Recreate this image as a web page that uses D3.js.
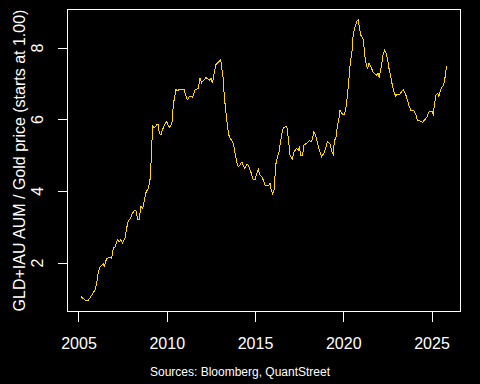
<!DOCTYPE html>
<html>
<head>
<meta charset="utf-8">
<script src="https://cdn.jsdelivr.net/npm/d3@7"></script>
<style>
    html, body { margin: 0; padding: 0; background: #000; }
    #chart { width: 480px; height: 384px; }
    text { font-family: "Liberation Sans", Arial, sans-serif; fill: #fff; }
</style>
</head>
<body>
<div id="chart"></div>
<script>
(function () {
    'use strict';

    // decimal year of each observation
    var years = [
        2005.14, 2005.37, 2005.56, 2005.75, 2005.93, 2006.03, 2006.12, 2006.22, 2006.41, 2006.46,
        2006.60, 2006.78, 2006.88, 2006.97, 2007.07, 2007.20, 2007.31, 2007.39, 2007.50, 2007.63,
        2007.73, 2007.82, 2007.96, 2008.01, 2008.14, 2008.26, 2008.35, 2008.44, 2008.54, 2008.64,
        2008.73, 2008.82, 2008.95, 2009.05, 2009.12, 2009.20, 2009.28, 2009.43, 2009.52, 2009.58,
        2009.67, 2009.77, 2009.90, 2010.00, 2010.09, 2010.18, 2010.31, 2010.37, 2010.47, 2010.51,
        2010.60, 2010.75, 2010.98, 2011.16, 2011.32, 2011.47, 2011.60, 2011.79, 2011.88, 2011.98,
        2012.11, 2012.22, 2012.41, 2012.51, 2012.58, 2012.69, 2012.77, 2012.92, 2013.06, 2013.11,
        2013.20, 2013.26, 2013.36, 2013.45, 2013.54, 2013.68, 2013.77, 2013.87, 2013.96, 2014.05,
        2014.15, 2014.26, 2014.34, 2014.43, 2014.53, 2014.62, 2014.76, 2014.90, 2015.00, 2015.10,
        2015.19, 2015.28, 2015.38, 2015.47, 2015.58, 2015.75, 2015.85, 2015.92, 2016.00, 2016.09,
        2016.17, 2016.26, 2016.36, 2016.45, 2016.55, 2016.64, 2016.80, 2016.89, 2016.98, 2017.11,
        2017.21, 2017.36, 2017.45, 2017.51, 2017.61, 2017.70, 2017.78, 2017.93, 2018.08, 2018.21,
        2018.34, 2018.44, 2018.59, 2018.78, 2018.91, 2019.01, 2019.10, 2019.25, 2019.35, 2019.44,
        2019.49, 2019.59, 2019.66, 2019.76, 2019.82, 2019.91, 2020.04, 2020.14, 2020.23, 2020.31,
        2020.38, 2020.44, 2020.50, 2020.57, 2020.67, 2020.76, 2020.85, 2020.91, 2020.99, 2021.06,
        2021.14, 2021.23, 2021.33, 2021.39, 2021.46, 2021.56, 2021.67, 2021.80, 2021.89, 2021.97,
        2022.03, 2022.12, 2022.20, 2022.27, 2022.35, 2022.42, 2022.50, 2022.59, 2022.69, 2022.78,
        2022.88, 2022.97, 2023.06, 2023.18, 2023.27, 2023.40, 2023.52, 2023.63, 2023.74, 2023.84,
        2024.01, 2024.12, 2024.20, 2024.35, 2024.50, 2024.61, 2024.73, 2024.84, 2024.92, 2025.03,
        2025.10, 2025.18, 2025.26, 2025.35, 2025.42, 2025.50, 2025.59, 2025.69, 2025.76, 2025.82,
        2025.86
    ];

    // GLD+IAU AUM / gold price, rebased to 1.00
    var ratio = [
        1.05, 0.95, 0.95, 1.09, 1.23, 1.42, 1.74, 1.88, 1.96, 1.90,
        2.12, 2.13, 2.12, 2.40, 2.44, 2.63, 2.58, 2.63, 2.54, 2.68,
        2.96, 3.17, 3.23, 3.33, 3.44, 3.44, 3.21, 3.21, 3.56, 3.51,
        3.74, 3.95, 4.07, 4.30, 4.86, 5.84, 5.75, 5.84, 5.84, 5.61,
        5.56, 5.72, 5.87, 5.93, 5.81, 5.77, 5.93, 6.40, 6.69, 6.83,
        6.80, 6.83, 6.83, 6.54, 6.65, 6.61, 6.81, 6.86, 7.16, 7.02,
        7.09, 7.16, 7.09, 7.13, 7.00, 7.28, 7.51, 7.59, 7.67, 7.46,
        7.14, 6.63, 6.16, 5.75, 5.51, 5.40, 5.33, 5.05, 4.81, 4.67,
        4.72, 4.81, 4.70, 4.63, 4.74, 4.72, 4.53, 4.32, 4.30, 4.49,
        4.60, 4.44, 4.40, 4.30, 4.14, 4.14, 4.21, 4.02, 3.91, 4.04,
        4.72, 4.91, 5.09, 5.37, 5.68, 5.77, 5.81, 5.47, 5.00, 4.88,
        5.09, 5.19, 5.12, 5.20, 4.98, 5.00, 5.28, 5.33, 5.40, 5.37,
        5.65, 5.53, 5.23, 4.95, 5.06, 5.19, 5.37, 5.31, 5.09, 5.00,
        5.37, 5.51, 5.79, 6.02, 6.26, 6.16, 6.12, 6.26, 6.63, 7.05,
        7.46, 7.70, 7.93, 8.40, 8.58, 8.72, 8.77, 8.58, 8.35, 8.30,
        8.21, 7.74, 7.46, 7.42, 7.56, 7.48, 7.33, 7.26, 7.23, 7.28,
        7.16, 7.37, 7.60, 7.84, 7.93, 7.84, 7.70, 7.42, 7.19, 6.95,
        6.74, 6.65, 6.69, 6.68, 6.74, 6.83, 6.72, 6.54, 6.35, 6.24,
        6.23, 6.12, 5.96, 5.95, 5.91, 5.98, 6.05, 6.18, 6.23, 6.21,
        6.14, 6.44, 6.68, 6.72, 6.63, 6.81, 6.89, 6.95, 7.14, 7.37,
        7.48
    ];

    var xTicks = [2005, 2010, 2015, 2020, 2025];
    var yTicks = [2, 4, 6, 8];

    var yTitle = 'GLD+IAU AUM / Gold price (starts at 1.00)';
    var caption = 'Sources: Bloomberg, QuantStreet';

    var width = 480, height = 384;
    var margin = { top: 9.5, right: 19.5, bottom: 72.5, left: 67.5 };

    var svg = d3.select('#chart').append('svg')
        .attr('width', width)
        .attr('height', height);

    svg.append('rect')
        .attr('width', width)
        .attr('height', height)
        .attr('fill', '#000');

    var x = d3.scaleLinear()
        .domain([2004.377, 2026.643])
        .range([margin.left, width - margin.right]);
    var y = d3.scaleLinear()
        .domain([0.6326, 9.0606])
        .range([height - margin.bottom, margin.top]);

    var points = years.map(function (yr, i) { return [yr, ratio[i]]; });

    var line = d3.line()
        .x(function (d) { return x(d[0]); })
        .y(function (d) { return y(d[1]); });

    svg.append('path')
        .datum(points)
        .attr('fill', 'none')
        .attr('stroke', '#ffd700')
        .attr('stroke-width', 1)
        .attr('shape-rendering', 'crispEdges')
        .attr('d', line);

    // box round the plot
    svg.append('rect')
        .attr('x', x.range()[0])
        .attr('y', y.range()[1])
        .attr('width', x.range()[1] - x.range()[0])
        .attr('height', y.range()[0] - y.range()[1])
        .attr('fill', 'none')
        .attr('stroke', '#fff')
        .attr('shape-rendering', 'crispEdges');

    var xAxis = svg.append('g')
        .attr('transform', 'translate(0,' + y.range()[0] + ')')
        .call(d3.axisBottom(x).tickValues(xTicks).tickFormat(d3.format('d'))
            .tickSize(10).tickPadding(16));

    var yAxis = svg.append('g')
        .attr('transform', 'translate(' + x.range()[0] + ',0)')
        .call(d3.axisLeft(y).tickValues(yTicks).tickSize(10));

    [xAxis, yAxis].forEach(function (g) {
        g.select('.domain').remove();
        g.selectAll('.tick line')
            .attr('stroke', '#fff')
            .attr('shape-rendering', 'crispEdges');
        g.selectAll('.tick text')
            .attr('fill', '#fff')
            .style('font-size', '16px');
    });

    // y tick labels run parallel to the axis, as in R
    yAxis.selectAll('.tick text')
        .attr('x', null)
        .attr('dy', null)
        .attr('text-anchor', 'middle')
        .attr('transform', 'translate(-25,0) rotate(-90)');

    svg.append('text')
        .attr('transform', 'translate(25,' + ((y.range()[0] + y.range()[1]) / 2) + ') rotate(-90)')
        .attr('text-anchor', 'middle')
        .style('font-size', '16px')
        .text(yTitle);

    svg.append('text')
        .attr('x', width / 2)
        .attr('y', 376)
        .attr('text-anchor', 'middle')
        .style('font-size', '12px')
        .text(caption);
}());
</script>
</body>
</html>
